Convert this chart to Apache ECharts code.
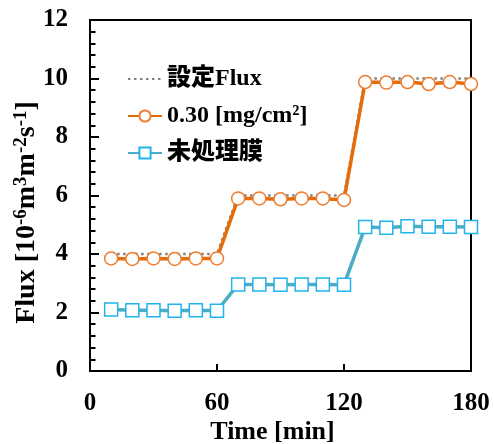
<!DOCTYPE html>
<html>
<head>
<meta charset="utf-8">
<script src="https://cdn.jsdelivr.net/npm/echarts@6/dist/echarts.min.js"></script>
<style>html,body{margin:0;padding:0;background:#fff;}#c{width:494px;height:444px;}</style>
</head>
<body>
<div id="c"></div>
<script>
var time = [10,20,30,40,50,60,70,80,90,100,110,120,130,140,150,160,170,180];
var setFlux = [4,4,4,4,4,4,6,6,6,6,6,6,10,10,10,10,10,10];
var coated = [3.85,3.83,3.85,3.83,3.85,3.85,5.9,5.9,5.87,5.9,5.9,5.85,9.88,9.86,9.88,9.81,9.88,9.81];
var untreated = [2.1,2.08,2.08,2.06,2.08,2.06,2.96,2.96,2.95,2.96,2.96,2.95,4.92,4.9,4.95,4.93,4.93,4.92];
var xTicks = [0,60,120,180];
var yTicks = [0,2,4,6,8,10,12];
var names = ['設定Flux','0.30 [mg/cm²]','未処理膜'];

function pairs(v){ return time.map(function(t,i){ return [t, v[i]]; }); }
var FONT = '"Liberation Serif", "Times New Roman", "Noto Sans CJK JP", serif';
var chart = echarts.init(document.getElementById('c'));
chart.setOption({
  animation: false,
  backgroundColor: '#fff',
  grid: {left: 90, right: 23, top: 20, bottom: 73, show: true, borderColor: '#000', borderWidth: 2,
         backgroundColor: 'transparent', containLabel: false, outerBoundsMode: 'none'},
  legend: {
    left: 122, top: 62, orient: 'vertical', itemWidth: 34, itemHeight: 14, itemGap: 13,
    data: [
      {name: names[0], itemStyle: {opacity: 0, color: 'rgba(0,0,0,0)', borderWidth: 0}},
      {name: names[1]},
      {name: names[2]}
    ],
    textStyle: {fontFamily: FONT, fontWeight: 900, fontSize: 24, color: '#000', lineHeight: 24}
  },
  xAxis: {
    type: 'value', min: xTicks[0], max: xTicks[xTicks.length-1], interval: 60,
    axisLine: {lineStyle: {color: '#000', width: 2}},
    axisTick: {inside: true, length: 7, lineStyle: {color: '#000', width: 2}},
    splitLine: {show: false},
    axisLabel: {margin: 20, fontFamily: FONT, fontWeight: 'bold', fontSize: 25, color: '#000'},
    name: 'Time [min]', nameLocation: 'middle', nameGap: 48, nameMoveOverlap: false,
    nameTextStyle: {fontFamily: FONT, fontWeight: 'bold', fontSize: 26, color: '#000', padding: [0, 16, 0, 0]}
  },
  yAxis: {
    type: 'value', min: yTicks[0], max: yTicks[yTicks.length-1], interval: 2,
    axisLine: {lineStyle: {color: '#000', width: 2}},
    axisTick: {inside: true, length: 9, lineStyle: {color: '#000', width: 2}},
    minorTick: {show: true, splitNumber: 5, length: 5.5, lineStyle: {color: '#000', width: 2}},
    splitLine: {show: false},
    axisLabel: {margin: 22, fontFamily: FONT, fontWeight: 'bold', fontSize: 25, color: '#000'},
    name: 'Flux [10{s|-6}m{s|3}m{s|-2}s{s|-1}]', nameLocation: 'middle', nameGap: 48, nameRotate: 90, nameMoveOverlap: false,
    nameTextStyle: {fontFamily: FONT, fontWeight: 'bold', fontSize: 28, color: '#000', lineHeight: 30, padding: [0, 34, 0, 0],
      rich: {s: {fontFamily: FONT, fontWeight: 'bold', fontSize: 19, color: '#000', verticalAlign: 'top', lineHeight: 30}}}
  },
  series: [
    {name: names[0], type: 'line', data: pairs(setFlux), symbol: 'none',
     lineStyle: {color: '#808080', width: 2.5, type: [2.5, 3.5]}, itemStyle: {color: '#808080'}, z: 2},
    {name: names[1], type: 'line', data: pairs(coated), symbol: 'circle', symbolSize: 13,
     lineStyle: {color: '#E46C0A', width: 3.5}, itemStyle: {color: '#fff', borderColor: '#ED7D31', borderWidth: 1.5}, z: 3},
    {name: names[2], type: 'line', data: pairs(untreated), symbol: 'rect', symbolSize: 13,
     lineStyle: {color: '#4BACC6', width: 3.5}, itemStyle: {color: '#fff', borderColor: '#1FB4EC', borderWidth: 1.5}, z: 4}
  ]
});
</script>
</body>
</html>
